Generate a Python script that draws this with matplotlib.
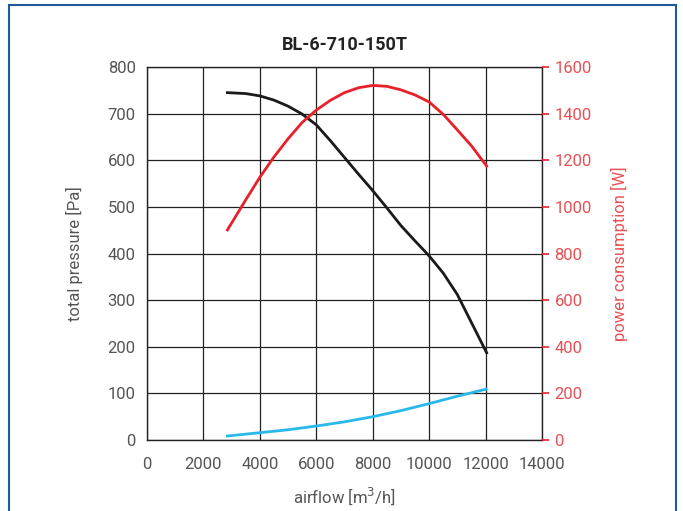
import numpy as np
import matplotlib
matplotlib.use("Agg")
import matplotlib.pyplot as plt
from matplotlib.patches import Rectangle

# airflow [m3/h] and readings
flow_p = [2850, 3500, 4000, 4500, 5000, 5500, 6000, 6500, 7000, 7500, 8000,
          8500, 9000, 9500, 10000, 10500, 11000, 11500, 12040]
pressure = [745, 743, 738, 729, 716, 699, 676, 642, 606, 570, 535,
            498, 460, 427, 395, 358, 312, 252, 187]

flow_w = [2850, 3500, 4000, 4500, 5000, 5500, 6000, 6500, 7000, 7500, 8000,
          8500, 9000, 9500, 10000, 10500, 11000, 11500, 12040]
power = [901, 1030, 1127, 1214, 1292, 1362, 1415, 1457, 1490, 1511, 1521,
         1517, 1502, 1480, 1450, 1397, 1330, 1262, 1175]

flow_c = [2850, 4000, 5000, 6000, 7000, 8000, 9000, 10000, 11000, 12020]
curve_c = [8.6, 15.7, 22, 30, 39, 50, 63, 78, 94, 109]

GRAY = "#555555"
RED = "#e8202a"
RED_TXT = "#e85055"
CYAN = "#29b8ea"

plt.rcParams["font.family"] = ["Roboto", "DejaVu Sans"]

fig = plt.figure(figsize=(6.83, 5.11), dpi=100)
fig.patches.append(Rectangle((9 / 683, -0.05), 667 / 683, 1.04 - 5 / 511 + 0.01,
                             transform=fig.transFigure, fill=False,
                             edgecolor="#1f5a9a", lw=1.5))
ax = fig.add_axes([0.2152, 0.1389, 0.5783, 0.73])
ax.plot(flow_p, pressure, color="#1a1a1a", lw=2)
ax.plot(flow_c, curve_c, color=CYAN, lw=2)
ax.set_xlim(0, 14000); ax.set_ylim(0, 800)
ax.set_xticks(range(0, 14001, 2000)); ax.set_yticks(range(0, 801, 100))
ax.grid(True, color="#222222", lw=0.9)
ax.set_axisbelow(True)
ax.tick_params(length=0, pad=8, labelsize=12, labelcolor=GRAY)
ax.tick_params(axis="x", pad=12)
for s in ax.spines.values():
    s.set_color("#222222"); s.set_linewidth(1)
ax.set_xlabel("airflow [m$^3$/h]", fontsize=12, color=GRAY, labelpad=10)
ax.set_ylabel("total pressure [Pa]", fontsize=12, color=GRAY, labelpad=18)
ax.set_title("BL-6-710-150T", fontsize=13, fontweight="bold", color="#222222", pad=12)

ax2 = ax.twinx()
ax2.plot(flow_w, power, color=RED, lw=2)
ax2.set_ylim(0, 1600); ax2.set_yticks(range(0, 1601, 200))
ax2.tick_params(axis="y", colors=RED, labelcolor=RED_TXT, length=5, width=1.2, labelsize=12, pad=4)
for s in ax2.spines.values():
    s.set_visible(False)
ax2.set_ylabel("power consumption [W]", fontsize=12, color=RED_TXT, labelpad=14)

fig.savefig("out.png", dpi=100)
